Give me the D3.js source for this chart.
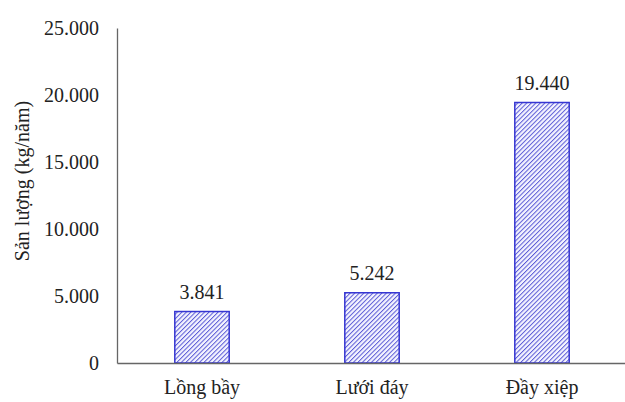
<!DOCTYPE html>
<html>
<head>
<meta charset="utf-8">
<script src="https://cdn.jsdelivr.net/npm/d3@7"></script>
</head>
<body style="margin:0;background:#fff">
<svg id="chart" width="625" height="402" font-family="Liberation Serif"></svg>
<script>
// Annual output per fishing gear type
const categories = ["Lồng bầy", "Lưới đáy", "Đầy xiệp"];
const values = [3841, 5242, 19440];
const yTicks = [0, 5000, 10000, 15000, 20000, 25000];
const yTitle = "Sản lượng (kg/năm)";

const svg = d3.select("#chart");
const margin = { left: 117, right: -2, top: 28, bottom: 39 };
const W = 625, H = 402;
const fontSize = 20;
const serif = "Liberation Serif";
const ink = "#222";

const x = d3.scaleBand()
  .domain(categories)
  .range([margin.left, W - margin.right])
  .paddingInner(0.68)
  .paddingOuter(0.34);

const y = d3.scaleLinear()
  .domain([0, 25000])
  .range([H - margin.bottom, margin.top]);

const fmt = v => d3.format(",")(v).replace(/,/g, ".");

// diagonal hatch fill
const defs = svg.append("defs");
const step = 3.2;
const pat = defs.append("pattern")
  .attr("id", "hatch")
  .attr("patternUnits", "userSpaceOnUse")
  .attr("width", step).attr("height", step)
  .attr("patternTransform", "rotate(45)");
pat.append("rect").attr("width", step).attr("height", step).attr("fill", "#f4f4ff");
pat.append("line")
  .attr("x1", 0).attr("y1", 0).attr("x2", 0).attr("y2", step)
  .attr("stroke", "#5a5ad6").attr("stroke-width", 2);

// bars
svg.selectAll("rect.bar")
  .data(values)
  .join("rect")
  .attr("class", "bar")
  .attr("x", (d, i) => x(categories[i]))
  .attr("y", d => y(d))
  .attr("width", x.bandwidth())
  .attr("height", d => y(0) - y(d))
  .attr("fill", "url(#hatch)")
  .attr("stroke", "#3636d2")
  .attr("stroke-width", 1.5);

// value labels
svg.selectAll("text.val")
  .data(values)
  .join("text")
  .attr("class", "val")
  .attr("x", (d, i) => x(categories[i]) + x.bandwidth() / 2)
  .attr("y", d => y(d) - 13)
  .attr("text-anchor", "middle")
  .attr("font-family", serif)
  .attr("font-size", fontSize)
  .attr("fill", ink)
  .text(d => fmt(d));

// y axis
const yAxis = svg.append("g")
  .attr("transform", `translate(${margin.left},0)`)
  .call(d3.axisLeft(y).tickValues(yTicks).tickSize(0).tickPadding(18).tickFormat(fmt));
yAxis.attr("font-family", serif).attr("font-size", fontSize);
yAxis.select(".domain").attr("stroke", "#666").attr("stroke-width", 1.3);
yAxis.selectAll(".tick text").attr("fill", ink);

// x axis
const xAxis = svg.append("g")
  .attr("transform", `translate(0,${y(0)})`)
  .call(d3.axisBottom(x).tickSize(0).tickPadding(17));
xAxis.attr("font-family", serif).attr("font-size", fontSize);
xAxis.select(".domain").attr("stroke", "#666").attr("stroke-width", 1.3);
xAxis.selectAll(".tick text").attr("fill", ink);

// y title
svg.append("text")
  .attr("transform", `translate(29,181) rotate(-90)`)
  .attr("text-anchor", "middle")
  .attr("font-family", serif)
  .attr("font-size", fontSize)
  .attr("fill", ink)
  .text(yTitle);
</script>
</body>
</html>
